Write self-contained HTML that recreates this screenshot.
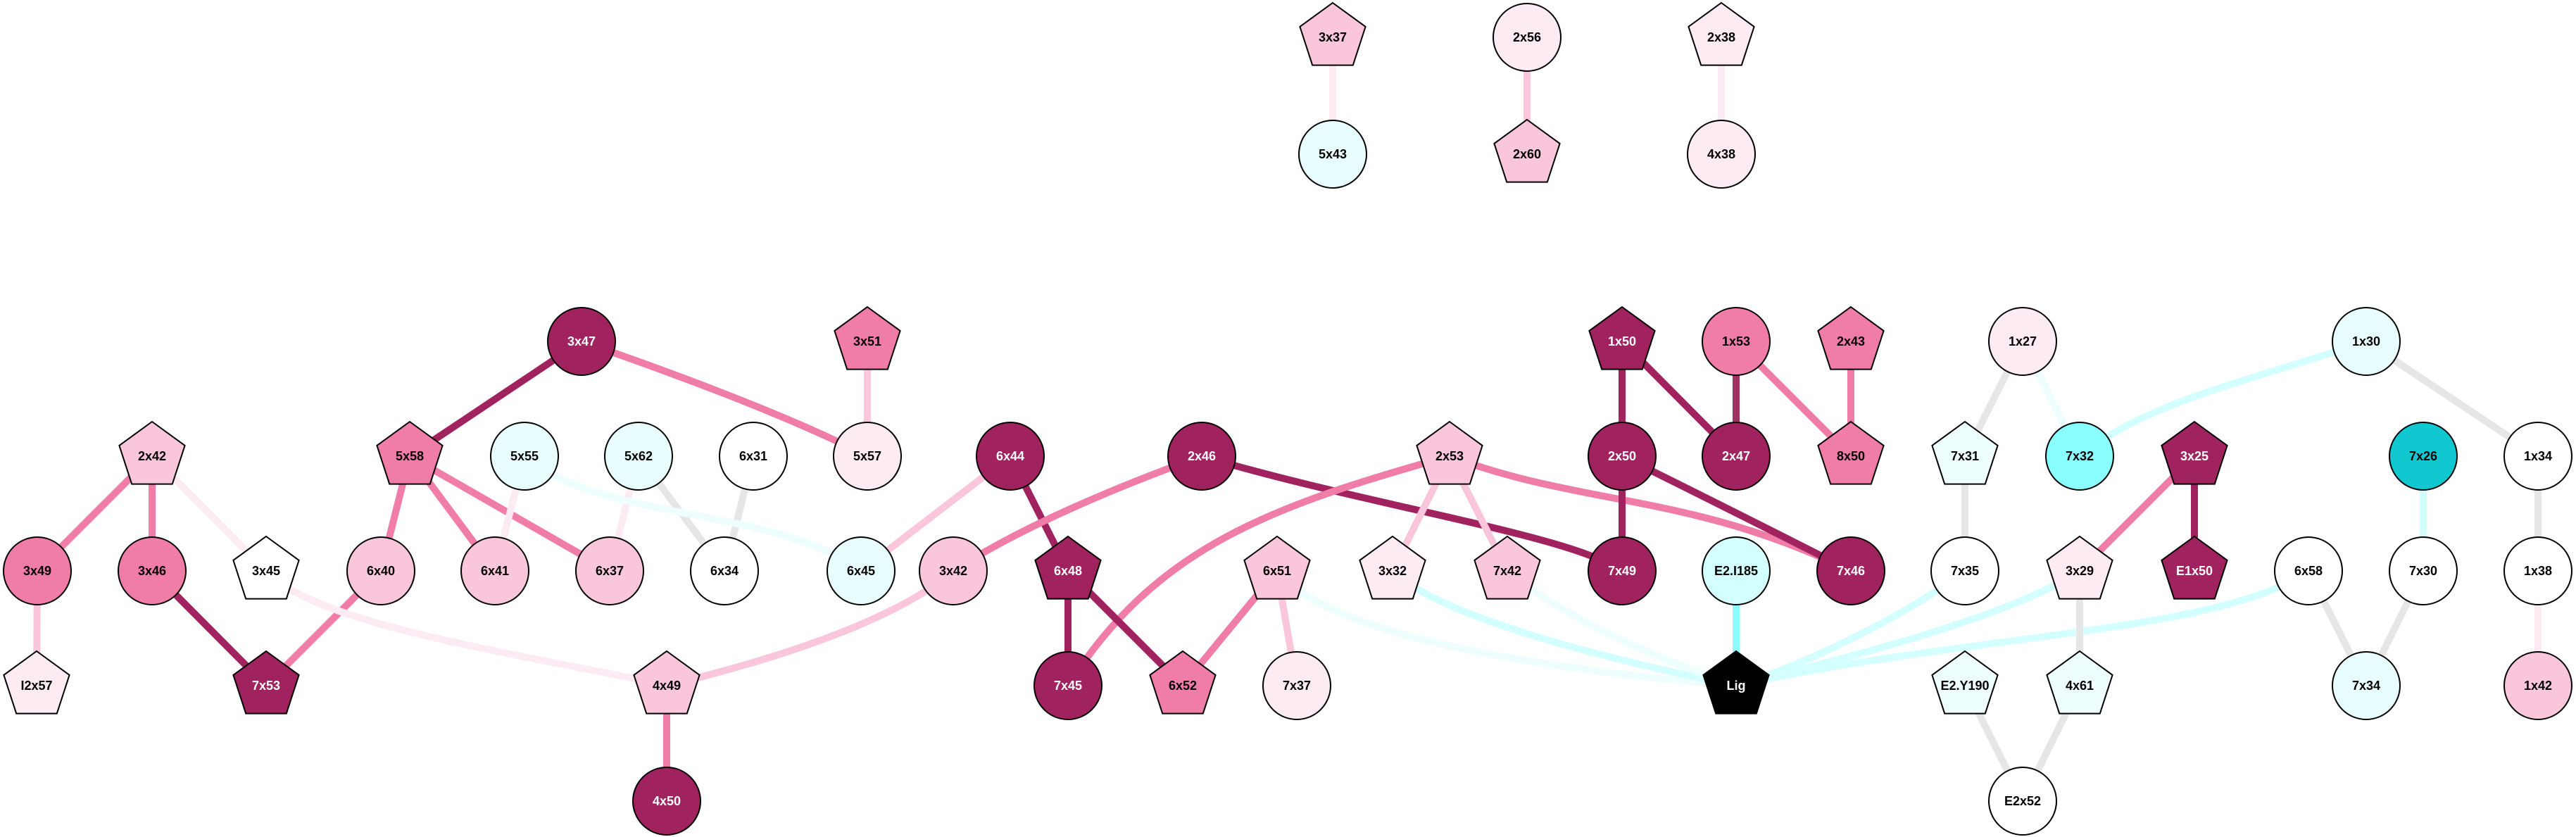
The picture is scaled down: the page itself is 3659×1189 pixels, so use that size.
<!DOCTYPE html>
<html><head><meta charset="utf-8"><style>html,body{margin:0;padding:0;background:#fff}svg{display:block}</style></head><body>
<svg width="3659" height="1189" viewBox="0 0 3659 1189" xmlns="http://www.w3.org/2000/svg">
<defs>
<polygon id="pent" points="0,-49 46.6,-15.1 28.8,39.6 -28.8,39.6 -46.6,-15.1" stroke="#000" stroke-width="2"/>
</defs>
<g fill="none" stroke-width="10" stroke-linecap="butt">
<!-- top -->
<line x1="1893" y1="53" x2="1893" y2="219" stroke="#fcebf3"/>
<line x1="2169" y1="53" x2="2169" y2="219" stroke="#f9c6dc"/>
<line x1="2445" y1="53" x2="2445" y2="219" stroke="#fcebf3"/>
<!-- left -->
<line x1="826" y1="485" x2="582" y2="648" stroke="#a0225e"/>
<path d="M826,485 Q1100,580 1232,648" stroke="#f07ca8"/>
<line x1="1232" y1="485" x2="1232" y2="648" stroke="#f9c6dc"/>
<line x1="216" y1="648" x2="53" y2="811" stroke="#f07ca8"/>
<line x1="216" y1="648" x2="216" y2="811" stroke="#f07ca8"/>
<line x1="216" y1="648" x2="378" y2="811" stroke="#fcebf3"/>
<line x1="53" y1="811" x2="52" y2="974" stroke="#f9c6dc"/>
<line x1="216" y1="811" x2="378" y2="974" stroke="#a0225e"/>
<line x1="541" y1="811" x2="378" y2="974" stroke="#f07ca8"/>
<line x1="582" y1="648" x2="541" y2="811" stroke="#f07ca8"/>
<line x1="582" y1="648" x2="703" y2="811" stroke="#f07ca8"/>
<line x1="582" y1="648" x2="866" y2="811" stroke="#f07ca8"/>
<line x1="745" y1="648" x2="703" y2="811" stroke="#fcebf3"/>
<line x1="907" y1="648" x2="866" y2="811" stroke="#fcebf3"/>
<line x1="907" y1="648" x2="1029" y2="811" stroke="#e6e6e6"/>
<line x1="1070" y1="648" x2="1029" y2="811" stroke="#e6e6e6"/>
<path d="M745,648 C850,740 1100,720 1223,811" stroke="#eefefe"/>
<path d="M378,811 C450,890 750,930 947,974" stroke="#fcebf3"/>
<path d="M1354,811 Q1250,900 947,974" stroke="#f9c6dc"/>
<line x1="947" y1="974" x2="947" y2="1138" stroke="#f07ca8"/>
<line x1="1435" y1="648" x2="1223" y2="811" stroke="#f9c6dc"/>
<line x1="1435" y1="648" x2="1517" y2="811" stroke="#a0225e"/>
<path d="M1707,648 Q1480,730 1354,811" stroke="#f07ca8"/>
<path d="M1707,648 C1950,720 2230,760 2304,811" stroke="#a0225e"/>
<path d="M2059,648 C1800,720 1640,780 1517,974" stroke="#f07ca8"/>
<path d="M2059,648 C2250,720 2400,700 2629,811" stroke="#f07ca8"/>
<line x1="2059" y1="648" x2="1978" y2="811" stroke="#f9c6dc"/>
<line x1="2059" y1="648" x2="2141" y2="811" stroke="#f9c6dc"/>
<line x1="1517" y1="811" x2="1517" y2="974" stroke="#a0225e"/>
<line x1="1517" y1="811" x2="1680" y2="974" stroke="#a0225e"/>
<line x1="1814" y1="811" x2="1680" y2="974" stroke="#f07ca8"/>
<line x1="1814" y1="811" x2="1842" y2="974" stroke="#f9c6dc"/>
<path d="M1814,811 C1900,920 2300,960 2466,974" stroke="#eefefe"/>
<path d="M1978,811 C2050,880 2300,940 2466,974" stroke="#d4ffff"/>
<path d="M2141,811 Q2250,900 2466,974" stroke="#eefefe"/>
<line x1="2466" y1="811" x2="2466" y2="974" stroke="#8affff"/>
<line x1="2304" y1="485" x2="2304" y2="648" stroke="#a0225e"/>
<line x1="2304" y1="485" x2="2466" y2="648" stroke="#a0225e"/>
<line x1="2466" y1="485" x2="2466" y2="648" stroke="#a3305f"/>
<line x1="2466" y1="485" x2="2629" y2="648" stroke="#f07ca8"/>
<line x1="2629" y1="485" x2="2629" y2="648" stroke="#f07ca8"/>
<line x1="2304" y1="648" x2="2304" y2="811" stroke="#a0225e"/>
<path d="M2304,648 Q2450,720 2629,811" stroke="#a0225e"/>
<!-- right -->
<path d="M2791,811 C2700,880 2550,950 2466,974" stroke="#d4ffff"/>
<path d="M2954,811 C2850,880 2600,940 2466,974" stroke="#d4ffff"/>
<path d="M3279,811 C3150,900 2800,900 2466,974" stroke="#d4ffff"/>
<line x1="2873" y1="485" x2="2791" y2="648" stroke="#e6e6e6"/>
<line x1="2873" y1="485" x2="2954" y2="648" stroke="#eefefe"/>
<path d="M3361,485 C3200,540 3050,570 2954,648" stroke="#d4ffff"/>
<line x1="3361" y1="485" x2="3605" y2="648" stroke="#e6e6e6"/>
<line x1="2791" y1="648" x2="2791" y2="811" stroke="#e6e6e6"/>
<line x1="3117" y1="648" x2="2954" y2="811" stroke="#f07ca8"/>
<line x1="3117" y1="648" x2="3117" y2="811" stroke="#a0225e"/>
<line x1="2954" y1="811" x2="2954" y2="974" stroke="#e6e6e6"/>
<line x1="2791" y1="974" x2="2873" y2="1138" stroke="#e6e6e6"/>
<line x1="2954" y1="974" x2="2873" y2="1138" stroke="#e6e6e6"/>
<line x1="3279" y1="811" x2="3361" y2="974" stroke="#e6e6e6"/>
<line x1="3442" y1="811" x2="3361" y2="974" stroke="#e6e6e6"/>
<line x1="3442" y1="648" x2="3442" y2="811" stroke="#d4ffff"/>
<line x1="3605" y1="648" x2="3605" y2="811" stroke="#e6e6e6"/>
<line x1="3605" y1="811" x2="3605" y2="974" stroke="#fcebf3"/>
</g>
<g stroke="#000" stroke-width="2">
<!-- circles -->
<circle cx="1893" cy="219" r="48" fill="#e8fefe"/>
<circle cx="2169" cy="53" r="48" fill="#fcebf3"/>
<circle cx="2445" cy="219" r="48" fill="#fcebf3"/>
<circle cx="826" cy="485" r="48" fill="#a0225e"/>
<circle cx="2466" cy="485" r="48" fill="#f07ca8"/>
<circle cx="2873" cy="485" r="48" fill="#fcebf3"/>
<circle cx="3361" cy="485" r="48" fill="#e8fefe"/>
<circle cx="745" cy="648" r="48" fill="#e8fefe"/>
<circle cx="907" cy="648" r="48" fill="#e8fefe"/>
<circle cx="1070" cy="648" r="48" fill="#fff"/>
<circle cx="1232" cy="648" r="48" fill="#fcebf3"/>
<circle cx="1435" cy="648" r="48" fill="#a0225e"/>
<circle cx="1707" cy="648" r="48" fill="#a0225e"/>
<circle cx="2304" cy="648" r="48" fill="#a0225e"/>
<circle cx="2466" cy="648" r="48" fill="#a0225e"/>
<circle cx="2954" cy="648" r="48" fill="#8affff"/>
<circle cx="3442" cy="648" r="48" fill="#12c8d0"/>
<circle cx="3605" cy="648" r="48" fill="#fff"/>
<circle cx="53" cy="811" r="48" fill="#f07ca8"/>
<circle cx="216" cy="811" r="48" fill="#f07ca8"/>
<circle cx="541" cy="811" r="48" fill="#f9c6dc"/>
<circle cx="703" cy="811" r="48" fill="#f9c6dc"/>
<circle cx="866" cy="811" r="48" fill="#f9c6dc"/>
<circle cx="1029" cy="811" r="48" fill="#fff"/>
<circle cx="1223" cy="811" r="48" fill="#e8fefe"/>
<circle cx="1354" cy="811" r="48" fill="#f9c6dc"/>
<circle cx="2304" cy="811" r="48" fill="#a0225e"/>
<circle cx="2466" cy="811" r="48" fill="#d4ffff"/>
<circle cx="2629" cy="811" r="48" fill="#a0225e"/>
<circle cx="2791" cy="811" r="48" fill="#fff"/>
<circle cx="3279" cy="811" r="48" fill="#fff"/>
<circle cx="3442" cy="811" r="48" fill="#fff"/>
<circle cx="3605" cy="811" r="48" fill="#fff"/>
<circle cx="1517" cy="974" r="48" fill="#a0225e"/>
<circle cx="1842" cy="974" r="48" fill="#fcebf3"/>
<circle cx="3361" cy="974" r="48" fill="#e8fefe"/>
<circle cx="3605" cy="974" r="48" fill="#f9c6dc"/>
<circle cx="947" cy="1138" r="48" fill="#a0225e"/>
<circle cx="2873" cy="1138" r="48" fill="#fff"/>
</g>
<g>
<use href="#pent" x="1893" y="53" fill="#f9c6dc"/>
<use href="#pent" x="2169" y="219" fill="#f9c6dc"/>
<use href="#pent" x="2445" y="53" fill="#fcebf3"/>
<use href="#pent" x="1232" y="485" fill="#f07ca8"/>
<use href="#pent" x="2304" y="485" fill="#a0225e"/>
<use href="#pent" x="2629" y="485" fill="#f07ca8"/>
<use href="#pent" x="216" y="648" fill="#f9c6dc"/>
<use href="#pent" x="582" y="648" fill="#f07ca8"/>
<use href="#pent" x="2059" y="648" fill="#f9c6dc"/>
<use href="#pent" x="2629" y="648" fill="#f07ca8"/>
<use href="#pent" x="2791" y="648" fill="#eefefe"/>
<use href="#pent" x="3117" y="648" fill="#a0225e"/>
<use href="#pent" x="378" y="811" fill="#fff"/>
<use href="#pent" x="1517" y="811" fill="#a0225e"/>
<use href="#pent" x="1814" y="811" fill="#f9c6dc"/>
<use href="#pent" x="1978" y="811" fill="#fcebf3"/>
<use href="#pent" x="2141" y="811" fill="#f9c6dc"/>
<use href="#pent" x="2954" y="811" fill="#fcebf3"/>
<use href="#pent" x="3117" y="811" fill="#a0225e"/>
<use href="#pent" x="52" y="974" fill="#fcebf3"/>
<use href="#pent" x="378" y="974" fill="#a0225e"/>
<use href="#pent" x="947" y="974" fill="#f9c6dc"/>
<use href="#pent" x="1680" y="974" fill="#f07ca8"/>
<use href="#pent" x="2466" y="974" fill="#000"/>
<use href="#pent" x="2791" y="974" fill="#eefefe"/>
<use href="#pent" x="2954" y="974" fill="#eefefe"/>
</g>
<g font-family="Liberation Sans, Arial, sans-serif" font-weight="bold" font-size="18" text-anchor="middle" dominant-baseline="central" fill="#000">
<text x="1893" y="53">3x37</text><text x="1893" y="219">5x43</text>
<text x="2169" y="53">2x56</text><text x="2169" y="219">2x60</text>
<text x="2445" y="53">2x38</text><text x="2445" y="219">4x38</text>
<text x="1232" y="485">3x51</text>
<text x="2466" y="485">1x53</text><text x="2629" y="485">2x43</text>
<text x="2873" y="485">1x27</text><text x="3361" y="485">1x30</text>
<text x="216" y="648">2x42</text><text x="582" y="648">5x58</text>
<text x="745" y="648">5x55</text><text x="907" y="648">5x62</text>
<text x="1070" y="648">6x31</text><text x="1232" y="648">5x57</text>
<text x="2059" y="648">2x53</text><text x="2629" y="648">8x50</text>
<text x="2791" y="648">7x31</text><text x="2954" y="648">7x32</text>
<text x="3442" y="648">7x26</text><text x="3605" y="648">1x34</text>
<text x="53" y="811">3x49</text><text x="216" y="811">3x46</text>
<text x="378" y="811">3x45</text><text x="541" y="811">6x40</text>
<text x="703" y="811">6x41</text><text x="866" y="811">6x37</text>
<text x="1029" y="811">6x34</text><text x="1223" y="811">6x45</text>
<text x="1354" y="811">3x42</text><text x="1814" y="811">6x51</text>
<text x="1978" y="811">3x32</text><text x="2141" y="811">7x42</text>
<text x="2466" y="811">E2.I185</text><text x="2791" y="811">7x35</text>
<text x="2954" y="811">3x29</text><text x="3279" y="811">6x58</text>
<text x="3442" y="811">7x30</text><text x="3605" y="811">1x38</text>
<text x="52" y="974">I2x57</text><text x="947" y="974">4x49</text>
<text x="1680" y="974">6x52</text><text x="1842" y="974">7x37</text>
<text x="2791" y="974">E2.Y190</text><text x="2954" y="974">4x61</text>
<text x="3361" y="974">7x34</text><text x="3605" y="974">1x42</text>
<text x="2873" y="1138">E2x52</text>
</g>
<g font-family="Liberation Sans, Arial, sans-serif" font-weight="bold" font-size="18" text-anchor="middle" dominant-baseline="central" fill="#fff">
<text x="826" y="485">3x47</text><text x="2304" y="485">1x50</text>
<text x="1435" y="648">6x44</text><text x="1707" y="648">2x46</text>
<text x="2304" y="648">2x50</text><text x="2466" y="648">2x47</text>
<text x="3117" y="648">3x25</text>
<text x="1517" y="811">6x48</text><text x="2304" y="811">7x49</text>
<text x="2629" y="811">7x46</text><text x="3117" y="811">E1x50</text>
<text x="378" y="974">7x53</text><text x="1517" y="974">7x45</text>
<text x="2466" y="974">Lig</text>
<text x="947" y="1138">4x50</text>
</g>
</svg>
</body></html>
